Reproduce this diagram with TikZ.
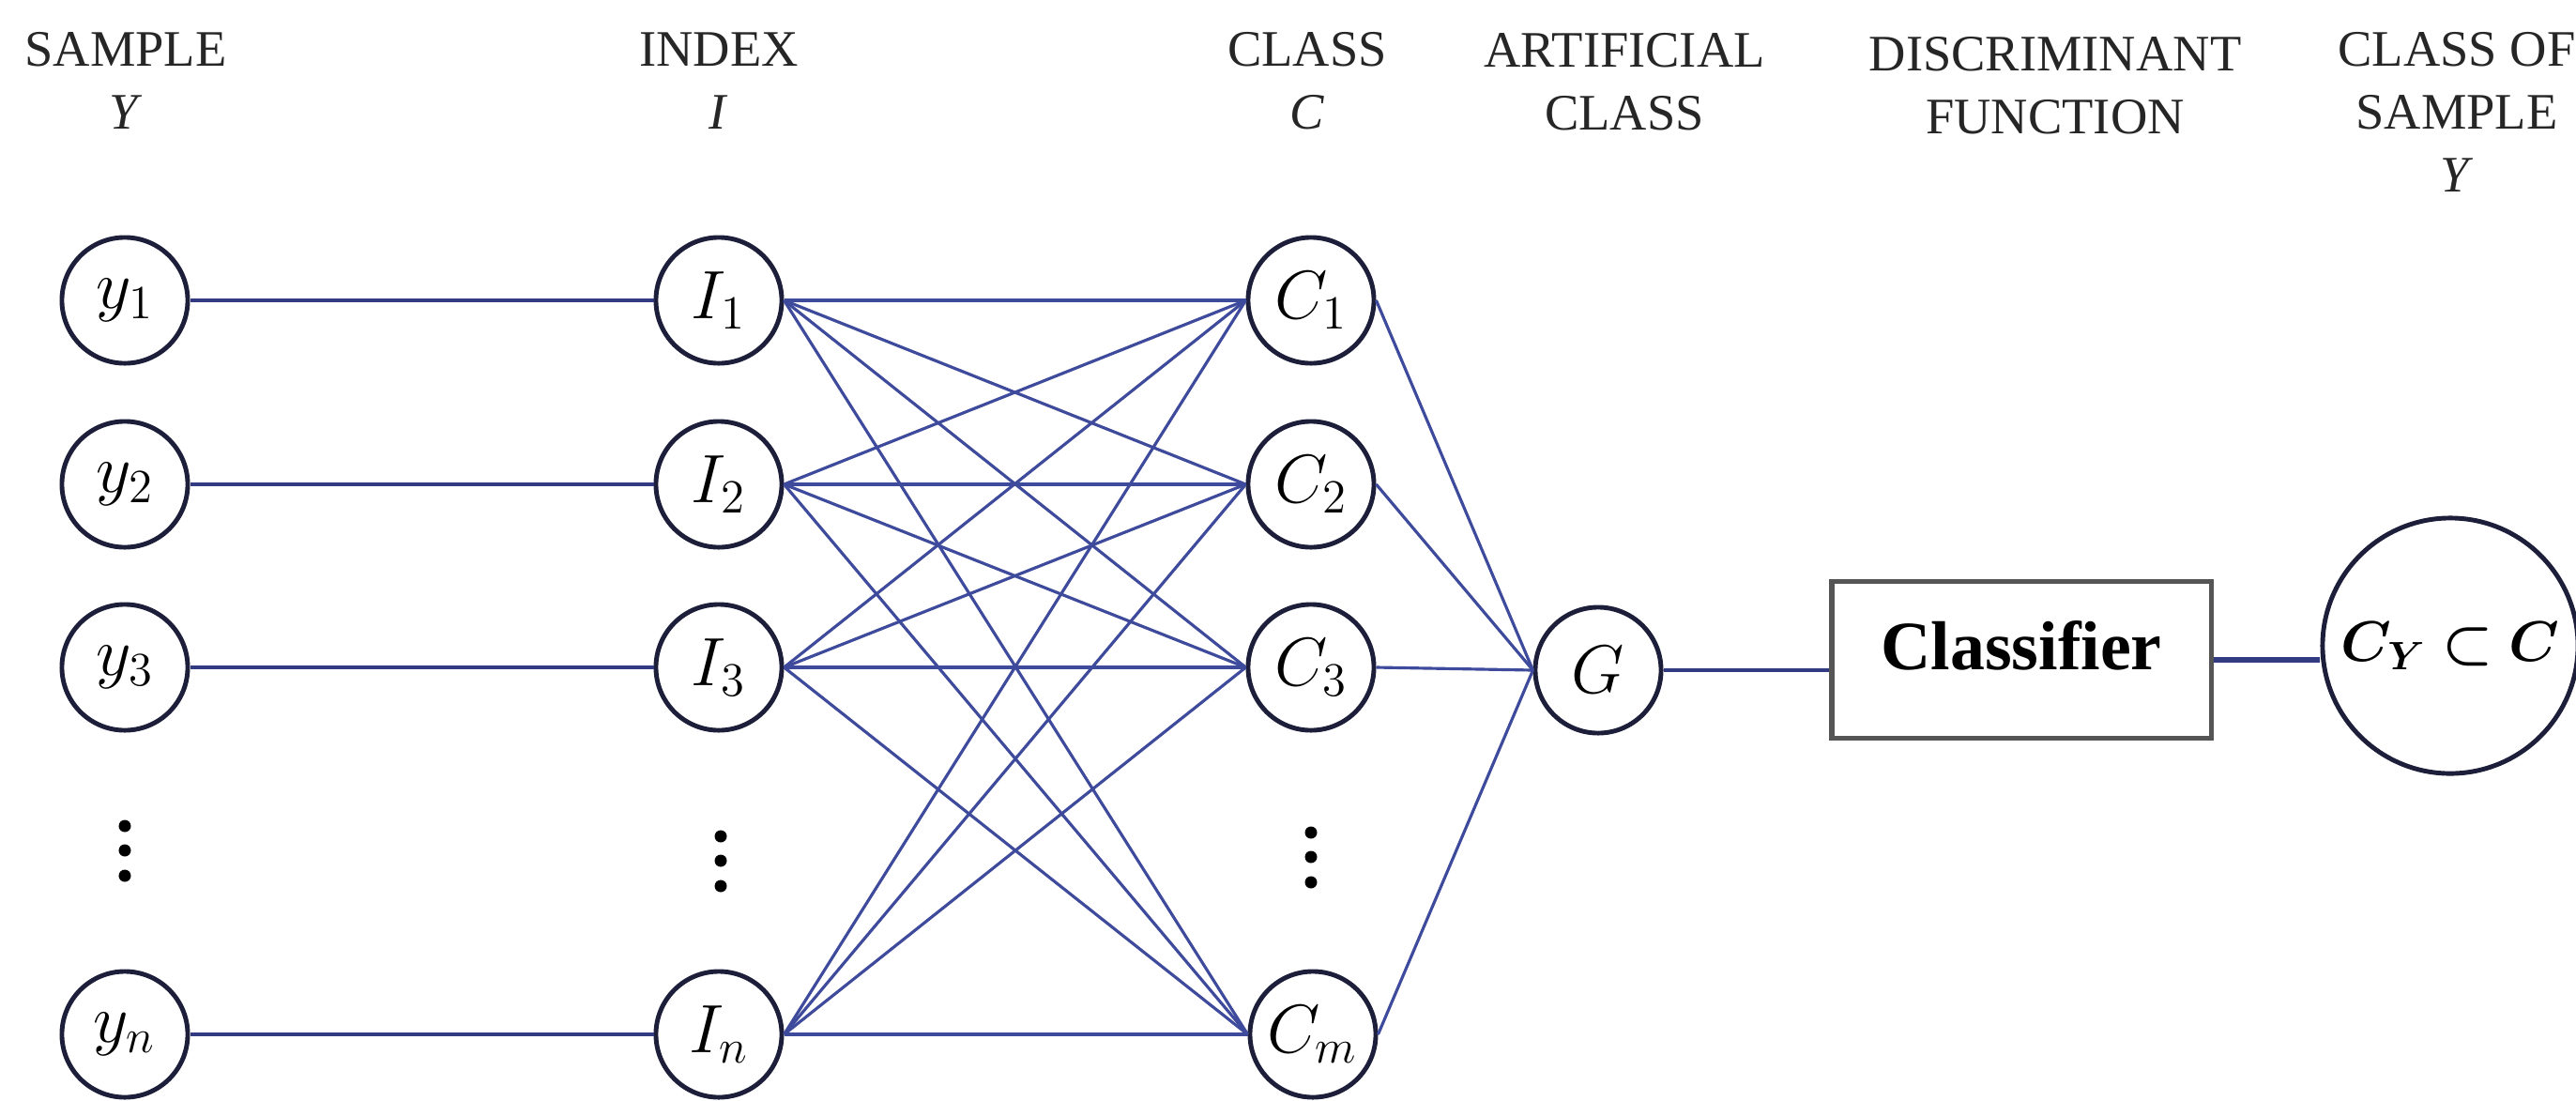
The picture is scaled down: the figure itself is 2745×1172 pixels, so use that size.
\documentclass[tikz,border=0pt]{standalone}
\usepackage{bm}
\usepackage{fontspec}
\setmainfont{Liberation Serif}
\usetikzlibrary{shapes.geometric}
\definecolor{lineblue}{RGB}{62,74,155}
\definecolor{darkblue}{RGB}{50,58,130}
\definecolor{ringcol}{RGB}{28,30,58}
\definecolor{boxgray}{RGB}{85,85,85}
\tikzset{
  header/.style={align=center, anchor=base, inner sep=0pt,
    font=\fontsize{15.5}{19}\selectfont, text=black!85},
  neuron/.style={circle, draw=ringcol, line width=1.4pt, minimum size=1.34cm,
    inner sep=0pt, font=\fontsize{19.5}{22}\selectfont},
  resnode/.style={circle, draw=ringcol, line width=1.4pt, minimum size=2.72cm,
    inner sep=0pt, font=\fontsize{17.5}{20}\selectfont},
  link/.style={draw=lineblue, line width=0.9pt},
  ylink/.style={draw=darkblue, line width=1.2pt},
  dotmark/.style={fill=black},
  clsbox/.style={draw=boxgray, line width=1.5pt, minimum width=4.04cm,
    minimum height=1.67cm, inner sep=0pt, text depth=0.32cm,
    font=\fontsize{21}{24}\selectfont\bfseries}
}
\begin{document}
\begin{tikzpicture}[x=0.01cm,y=-0.01cm]
\useasboundingbox (0,0) rectangle (2745,1172);

% headers (anchored at the baseline of their last line)
\node[header] (hS) at (134,137) {SAMPLE\\\textit{Y}};
\node[header] (hI) at (766,137) {INDEX\\\textit{I}};
\node[header] (hC) at (1393,137) {CLASS\\\textit{C}};
\node[header] (hA) at (1731,138) {ARTIFICIAL\\CLASS};
\node[header] (hD) at (2190,142) {DISCRIMINANT\\FUNCTION};
\node[header] (hO) at (2618,204) {CLASS OF\\SAMPLE\\\textit{Y}};

% sample column
\node[neuron] (y1) at (133,320) {$y_1$};
\node[neuron] (y2) at (133,516) {$y_2$};
\node[neuron] (y3) at (133,711) {$y_3$};
\node[neuron] (yn) at (133,1102) {$y_n$};
% index column
\node[neuron] (I1) at (766,320) {$I_1$};
\node[neuron] (I2) at (766,516) {$I_2$};
\node[neuron] (I3) at (766,711) {$I_3$};
\node[neuron] (In) at (766,1102) {$I_n$};
% class column
\node[neuron] (C1) at (1397,320) {$C_1$};
\node[neuron] (C2) at (1397,516) {$C_2$};
\node[neuron] (C3) at (1397,711) {$C_3$};
\node[neuron] (Cm) at (1399,1102) {$C_m$};
% artificial class
\node[neuron] (G) at (1703,714) {$G$};
% classifier
\node[clsbox] (cls) at (2154,703) {Classifier};
% result
\node[resnode] (res) at (2611,688) {$\bm{C}_{\bm{Y}}\bm{\subset}\bm{C}$};

% vertical dots
\foreach \yy in {880,906,933} \fill[dotmark] (133,\yy) circle[radius=0.065cm];
\foreach \yy in {891,917,944} \fill[dotmark] (768,\yy) circle[radius=0.065cm];
\foreach \yy in {887,913,940} \fill[dotmark] (1397,\yy) circle[radius=0.065cm];

% connectors
\draw[ylink] (y1.east) -- (I1.west);
\draw[ylink] (y2.east) -- (I2.west);
\draw[ylink] (y3.east) -- (I3.west);
\draw[ylink] (yn.east) -- (In.west);
\foreach \i in {I1,I2,I3,In}
  \foreach \c in {C1,C2,C3,Cm}
    \draw[link] (\i.east) -- (\c.west);
\foreach \c in {C1,C2,C3,Cm}
  \draw[link] (\c.east) -- (G.west);
\draw[ylink] (G.east) -- (G.east -| cls.west);
\draw[ylink, line width=1.8pt] (cls.east) -- (cls.east -| res.west);
\end{tikzpicture}
\end{document}
